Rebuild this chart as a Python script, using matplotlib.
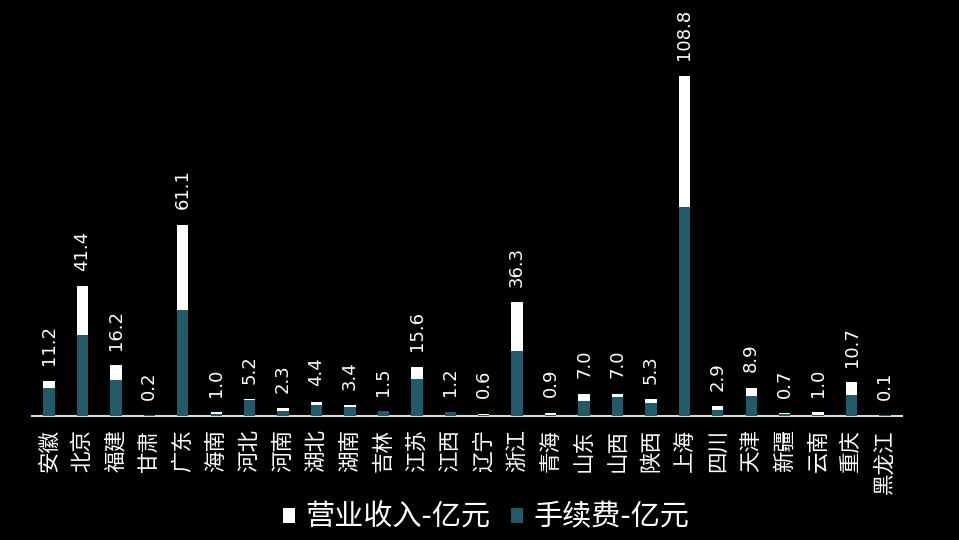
import numpy as np
import matplotlib
matplotlib.use("Agg")
import matplotlib.pyplot as plt

plt.rcParams['font.family'] = ['Noto Sans CJK SC', 'DejaVu Sans']

provinces = ["安徽", "北京", "福建", "甘肃", "广东", "海南", "河北", "河南", "湖北", "湖南",
             "吉林", "江苏", "江西", "辽宁", "浙江", "青海", "山东", "山西", "陕西", "上海",
             "四川", "天津", "新疆", "云南", "重庆", "黑龙江"]
revenue = [11.2, 41.4, 16.2, 0.2, 61.1, 1.0, 5.2, 2.3, 4.4, 3.4,
           1.5, 15.6, 1.2, 0.6, 36.3, 0.9, 7.0, 7.0, 5.3, 108.8,
           2.9, 8.9, 0.7, 1.0, 10.7, 0.1]
fee = [8.9, 25.8, 11.4, 0.1, 33.8, 0.5, 5.0, 1.6, 3.4, 2.8,
       1.5, 11.7, 1.2, 0.2, 20.6, 0.2, 4.6, 5.9, 3.9, 66.7,
       1.7, 6.2, 0.4, 0.1, 6.5, 0.05]

teal = "#235a69"
x = np.arange(len(provinces))

fig = plt.figure(figsize=(9.59, 5.4), dpi=100, facecolor="black")
ax = fig.add_axes([32.3 / 959, 124.5 / 540, 869.4 / 959, 375 / 540])
ax.set_facecolor("black")

ax.bar(x, revenue, width=0.34, color="white", label="营业收入-亿元", zorder=2)
ax.bar(x, fee, width=0.34, color=teal, label="手续费-亿元", zorder=3)

for xi, v in zip(x, revenue):
    ax.annotate(f"{v:.1f}", (xi, v), xytext=(0, 11), textcoords="offset points",
                rotation=90, ha="center", va="bottom", color="white",
                fontsize=13, family="DejaVu Sans", annotation_clip=False)

ax.set_xlim(-0.5, len(provinces) - 0.5)
ax.set_ylim(0, 120)
ax.set_xticks(x)
ax.set_xticklabels(provinces, rotation=90, color="white", fontsize=15.5)
ax.tick_params(axis="x", length=0, pad=10)
ax.set_yticks([])
for s in ["top", "right", "left"]:
    ax.spines[s].set_visible(False)
ax.spines["bottom"].set_color("#d9d9d9")
ax.spines["bottom"].set_linewidth(1.5)

leg = fig.legend(loc="lower center", bbox_to_anchor=(0.507, -0.035), ncol=2, frameon=False,
                 fontsize=21, handlelength=0.42, handleheight=0.42, handletextpad=0.35,
                 columnspacing=0.7)
for t in leg.get_texts():
    t.set_color("white")

fig.savefig("out.png", dpi=100, facecolor="black")
